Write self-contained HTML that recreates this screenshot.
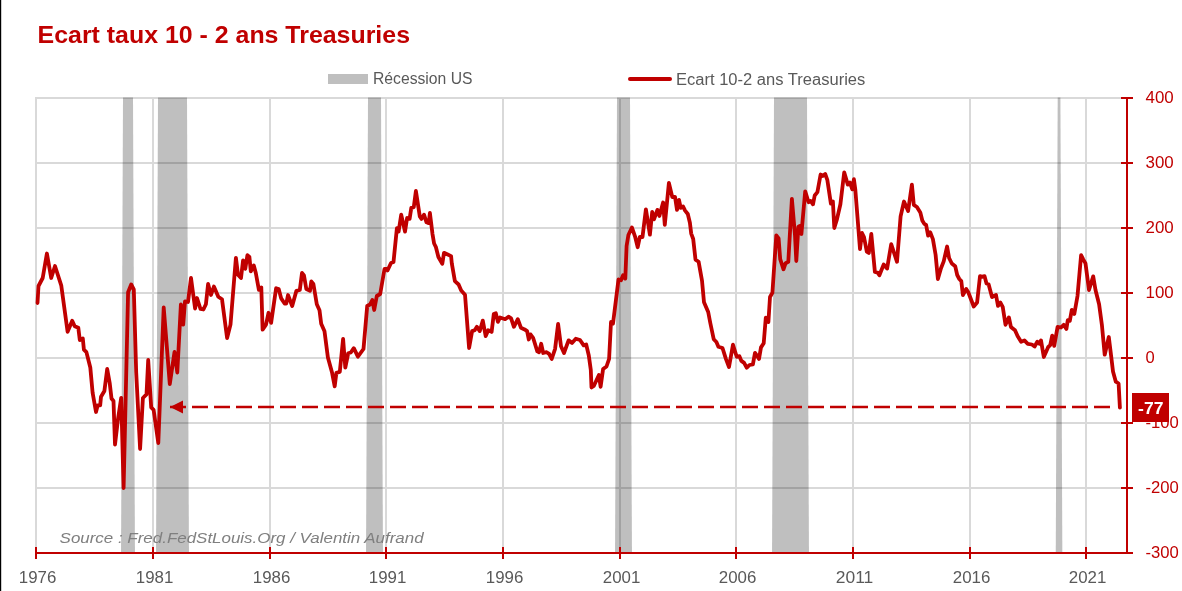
<!DOCTYPE html>
<html><head><meta charset="utf-8"><title>Ecart taux 10 - 2 ans Treasuries</title>
<style>
html,body{margin:0;padding:0;background:#fff;}
body{width:1182px;height:591px;overflow:hidden;font-family:"Liberation Sans",sans-serif;}
svg{display:block;}
text{font-family:"Liberation Sans",sans-serif;}
</style></head><body>
<svg width="1182" height="591" viewBox="0 0 1182 591">
<rect x="0" y="0" width="1182" height="591" fill="#fff"/>
<rect x="0" y="0" width="1.2" height="591" fill="#000"/>
<rect x="35" y="97" width="1091" height="2" fill="#d9d9d9"/>
<rect x="35" y="162" width="1091" height="2" fill="#d9d9d9"/>
<rect x="35" y="227" width="1091" height="2" fill="#d9d9d9"/>
<rect x="35" y="292" width="1091" height="2" fill="#d9d9d9"/>
<rect x="35" y="357" width="1091" height="2" fill="#d9d9d9"/>
<rect x="35" y="422" width="1091" height="2" fill="#d9d9d9"/>
<rect x="35" y="487" width="1091" height="2" fill="#d9d9d9"/>
<rect x="35.00" y="99" width="2" height="448" fill="#d9d9d9"/>
<rect x="152.00" y="99" width="2" height="448" fill="#d9d9d9"/>
<rect x="269.00" y="99" width="2" height="448" fill="#d9d9d9"/>
<rect x="385.00" y="99" width="2" height="448" fill="#d9d9d9"/>
<rect x="502.00" y="99" width="2" height="448" fill="#d9d9d9"/>
<rect x="619.00" y="99" width="2" height="448" fill="#d9d9d9"/>
<rect x="735.00" y="99" width="2" height="448" fill="#d9d9d9"/>
<rect x="852.00" y="99" width="2" height="448" fill="#d9d9d9"/>
<rect x="969.00" y="99" width="2" height="448" fill="#d9d9d9"/>
<rect x="1085.00" y="99" width="2" height="448" fill="#d9d9d9"/>
<g style="mix-blend-mode:multiply">
<polygon points="123,97.5 133,97.5 134.94,553 121.06,553" fill="#bfbfbf"/>
<polygon points="158,97.5 187,97.5 188.94,553 156.06,553" fill="#bfbfbf"/>
<polygon points="368,97.5 381,97.5 382.94,553 366.06,553" fill="#bfbfbf"/>
<polygon points="617,97.5 630,97.5 631.94,553 615.06,553" fill="#bfbfbf"/>
<polygon points="774,97.5 807,97.5 808.94,553 772.06,553" fill="#bfbfbf"/>
<polygon points="1057.7,97.5 1060.4,97.5 1062.34,553 1055.76,553" fill="#bfbfbf"/>
</g>
<text x="59.6" y="542.8" font-family="Liberation Sans" font-style="italic" font-size="15.5" fill="#7f7f7f" textLength="364" lengthAdjust="spacingAndGlyphs">Source : Fred.FedStLouis.Org / Valentin Aufrand</text>
<rect x="35" y="552" width="1098" height="2" fill="#C00000"/>
<rect x="1126" y="97" width="2" height="456" fill="#C00000"/>
<rect x="35.00" y="547" width="2" height="12" fill="#C00000"/>
<rect x="152.00" y="547" width="2" height="12" fill="#C00000"/>
<rect x="269.00" y="547" width="2" height="12" fill="#C00000"/>
<rect x="385.00" y="547" width="2" height="12" fill="#C00000"/>
<rect x="502.00" y="547" width="2" height="12" fill="#C00000"/>
<rect x="619.00" y="547" width="2" height="12" fill="#C00000"/>
<rect x="735.00" y="547" width="2" height="12" fill="#C00000"/>
<rect x="852.00" y="547" width="2" height="12" fill="#C00000"/>
<rect x="969.00" y="547" width="2" height="12" fill="#C00000"/>
<rect x="1085.00" y="547" width="2" height="12" fill="#C00000"/>
<rect x="1121" y="97" width="12" height="2" fill="#C00000"/>
<rect x="1121" y="162" width="12" height="2" fill="#C00000"/>
<rect x="1121" y="227" width="12" height="2" fill="#C00000"/>
<rect x="1121" y="292" width="12" height="2" fill="#C00000"/>
<rect x="1121" y="357" width="12" height="2" fill="#C00000"/>
<rect x="1121" y="422" width="12" height="2" fill="#C00000"/>
<rect x="1121" y="487" width="12" height="2" fill="#C00000"/>
<text x="1145.5" y="102.6" font-family="Liberation Sans" font-size="16" fill="#C00000" textLength="28.2" lengthAdjust="spacingAndGlyphs">400</text>
<text x="1145.5" y="167.6" font-family="Liberation Sans" font-size="16" fill="#C00000" textLength="28.2" lengthAdjust="spacingAndGlyphs">300</text>
<text x="1145.5" y="232.6" font-family="Liberation Sans" font-size="16" fill="#C00000" textLength="28.2" lengthAdjust="spacingAndGlyphs">200</text>
<text x="1145.5" y="297.6" font-family="Liberation Sans" font-size="16" fill="#C00000" textLength="28.2" lengthAdjust="spacingAndGlyphs">100</text>
<text x="1145.5" y="362.6" font-family="Liberation Sans" font-size="16" fill="#C00000" textLength="9.2" lengthAdjust="spacingAndGlyphs">0</text>
<text x="1145.5" y="427.6" font-family="Liberation Sans" font-size="16" fill="#C00000" textLength="33.3" lengthAdjust="spacingAndGlyphs">-100</text>
<text x="1145.5" y="492.6" font-family="Liberation Sans" font-size="16" fill="#C00000" textLength="33.3" lengthAdjust="spacingAndGlyphs">-200</text>
<text x="1145.5" y="557.6" font-family="Liberation Sans" font-size="16" fill="#C00000" textLength="33.3" lengthAdjust="spacingAndGlyphs">-300</text>
<text x="37.5" y="582.8" text-anchor="middle" font-family="Liberation Sans" font-size="16" fill="#595959" textLength="37.5" lengthAdjust="spacingAndGlyphs">1976</text>
<text x="154.5" y="582.8" text-anchor="middle" font-family="Liberation Sans" font-size="16" fill="#595959" textLength="37.5" lengthAdjust="spacingAndGlyphs">1981</text>
<text x="271.5" y="582.8" text-anchor="middle" font-family="Liberation Sans" font-size="16" fill="#595959" textLength="37.5" lengthAdjust="spacingAndGlyphs">1986</text>
<text x="387.5" y="582.8" text-anchor="middle" font-family="Liberation Sans" font-size="16" fill="#595959" textLength="37.5" lengthAdjust="spacingAndGlyphs">1991</text>
<text x="504.5" y="582.8" text-anchor="middle" font-family="Liberation Sans" font-size="16" fill="#595959" textLength="37.5" lengthAdjust="spacingAndGlyphs">1996</text>
<text x="621.5" y="582.8" text-anchor="middle" font-family="Liberation Sans" font-size="16" fill="#595959" textLength="37.5" lengthAdjust="spacingAndGlyphs">2001</text>
<text x="737.5" y="582.8" text-anchor="middle" font-family="Liberation Sans" font-size="16" fill="#595959" textLength="37.5" lengthAdjust="spacingAndGlyphs">2006</text>
<text x="854.5" y="582.8" text-anchor="middle" font-family="Liberation Sans" font-size="16" fill="#595959" textLength="37.5" lengthAdjust="spacingAndGlyphs">2011</text>
<text x="971.5" y="582.8" text-anchor="middle" font-family="Liberation Sans" font-size="16" fill="#595959" textLength="37.5" lengthAdjust="spacingAndGlyphs">2016</text>
<text x="1087.5" y="582.8" text-anchor="middle" font-family="Liberation Sans" font-size="16" fill="#595959" textLength="37.5" lengthAdjust="spacingAndGlyphs">2021</text>
<rect x="328" y="74" width="40" height="10" fill="#bfbfbf"/>
<text x="373" y="84.4" font-family="Liberation Sans" font-size="16" fill="#595959" textLength="99.5" lengthAdjust="spacingAndGlyphs">Récession US</text>
<line x1="630" y1="79" x2="670" y2="79" stroke="#C00000" stroke-width="4" stroke-linecap="round"/>
<text x="676" y="84.6" font-family="Liberation Sans" font-size="16" fill="#595959" textLength="189.3" lengthAdjust="spacingAndGlyphs">Ecart 10-2 ans Treasuries</text>
<text x="37.6" y="43.4" font-family="Liberation Sans" font-weight="bold" font-size="23.7" fill="#C00000" textLength="372.4" lengthAdjust="spacingAndGlyphs">Ecart taux 10 - 2 ans Treasuries</text>
<line x1="170" y1="407" x2="1112" y2="407" stroke="#C00000" stroke-width="2.5" stroke-dasharray="16 6"/>
<polygon points="170,407 183,400.5 183,413.5" fill="#C00000"/>
<path d="M37.5 303.0 L38.5 286.0 L42.7 278.0 L46.9 253.5 L51.2 278.0 L55.0 266.0 L61.3 285.7 L67.6 331.8 L72.2 320.7 L74.7 326.2 L78.3 327.8 L79.8 340.0 L82.8 338.4 L83.9 349.6 L86.4 352.1 L90.3 367.5 L92.6 392.6 L96.0 412.0 L97.7 405.3 L100.2 405.3 L101.0 396.8 L104.4 391.0 L107.2 369.0 L109.7 383.0 L111.5 398.5 L113.5 401.0 L115.0 444.5 L118.0 419.0 L121.2 397.8 L123.6 488.0 L128.1 292.3 L131.2 284.5 L133.8 289.5 L136.2 372.5 L140.1 449.0 L142.9 398.0 L146.5 394.4 L148.2 360.0 L151.2 407.4 L153.6 409.8 L158.3 443.0 L163.7 307.5 L169.8 384.0 L174.5 352.0 L177.3 372.5 L180.9 304.4 L183.2 324.7 L185.0 301.4 L188.0 302.0 L191.0 278.0 L195.1 308.5 L197.0 298.0 L200.5 309.0 L203.4 309.5 L205.9 304.3 L208.1 284.0 L211.0 295.0 L213.9 286.5 L218.3 296.7 L222.0 299.2 L227.1 338.0 L230.5 324.6 L235.9 257.8 L238.0 274.7 L241.0 278.0 L243.1 260.3 L245.3 268.8 L247.4 255.2 L249.4 256.9 L250.8 271.3 L253.8 265.4 L255.8 273.0 L258.9 289.9 L261.3 287.4 L262.6 329.7 L266.0 324.6 L268.5 312.8 L271.1 322.9 L276.1 288.2 L278.7 289.0 L281.2 298.4 L284.6 303.5 L286.3 303.5 L288.0 295.0 L292.2 306.0 L296.4 290.8 L299.8 290.0 L302.0 273.0 L304.0 275.5 L306.3 289.0 L310.0 290.8 L311.3 281.5 L313.4 284.0 L316.8 304.3 L319.5 310.2 L321.2 323.7 L324.5 331.3 L327.9 357.5 L332.1 372.8 L334.7 386.3 L336.4 372.8 L339.8 371.9 L343.1 338.9 L345.3 367.7 L348.2 353.3 L350.8 352.5 L353.8 348.2 L357.9 356.7 L363.5 349.0 L367.2 306.0 L370.0 304.5 L372.3 300.0 L374.2 310.0 L376.8 296.0 L380.2 294.0 L384.5 269.0 L386.5 269.0 L387.5 270.5 L391.0 263.0 L393.5 262.0 L396.9 228.2 L398.6 231.6 L401.2 214.7 L405.0 231.6 L407.1 218.0 L409.6 218.9 L411.3 207.9 L413.8 207.1 L415.9 191.0 L419.8 216.4 L421.5 218.9 L424.0 214.7 L426.5 222.3 L428.7 223.1 L429.9 213.0 L432.5 234.1 L434.1 243.5 L435.8 246.8 L438.4 257.0 L442.3 263.8 L444.0 252.8 L447.7 254.5 L451.1 256.1 L451.8 263.4 L454.9 281.2 L458.6 284.5 L461.2 290.5 L465.0 294.7 L469.1 348.0 L472.1 331.1 L474.7 330.2 L476.9 326.8 L479.8 331.1 L482.8 320.6 L485.7 336.1 L488.2 330.2 L491.6 331.9 L493.8 314.1 L495.8 313.3 L497.9 321.8 L500.1 317.5 L505.1 319.2 L508.5 316.7 L511.1 318.4 L513.9 326.8 L517.8 319.2 L520.9 327.7 L524.6 329.4 L527.1 331.1 L528.8 339.5 L530.5 334.4 L533.1 337.8 L537.3 351.4 L539.0 352.2 L541.2 343.8 L543.2 353.0 L546.6 352.2 L549.1 353.9 L551.7 359.0 L555.1 348.8 L558.1 324.0 L561.0 346.3 L564.0 353.0 L568.6 340.4 L572.0 342.9 L575.8 338.7 L580.0 340.0 L583.7 345.4 L586.2 344.5 L588.8 355.5 L590.8 370.0 L591.5 387.5 L593.8 386.0 L598.9 375.0 L600.6 386.8 L603.1 369.0 L606.5 366.5 L609.1 358.9 L611.0 322.0 L613.0 323.5 L618.5 279.5 L621.0 280.3 L623.1 275.2 L625.3 278.6 L626.6 246.0 L628.4 235.0 L631.9 227.5 L635.0 236.3 L637.7 247.2 L639.8 237.0 L642.5 237.0 L645.9 209.3 L649.9 234.7 L652.2 212.0 L654.0 219.4 L657.4 209.9 L659.4 216.0 L663.1 202.5 L664.8 224.8 L668.9 182.9 L672.3 197.1 L675.0 196.8 L677.0 209.9 L679.0 199.8 L680.7 207.9 L683.1 206.5 L685.1 210.6 L687.8 214.0 L689.9 222.8 L691.2 233.6 L693.2 239.0 L695.5 259.6 L698.6 261.7 L702.0 280.6 L704.0 302.3 L708.2 312.0 L710.3 323.0 L713.7 339.2 L716.4 342.0 L718.4 346.7 L722.5 348.0 L725.9 358.9 L729.0 367.0 L733.0 344.7 L736.7 356.8 L739.4 356.2 L741.4 360.9 L744.1 362.9 L746.8 367.7 L749.5 365.0 L752.9 364.3 L755.0 352.8 L759.0 358.9 L761.0 347.4 L763.7 343.3 L765.8 317.6 L768.4 322.0 L770.0 297.0 L772.4 292.8 L776.3 235.4 L778.6 238.5 L780.2 259.1 L783.5 269.3 L785.6 263.2 L788.3 261.8 L791.9 198.8 L795.0 235.4 L796.3 261.0 L798.4 226.6 L799.8 225.9 L801.4 234.0 L805.2 191.4 L808.6 202.2 L810.6 200.9 L813.0 204.3 L814.7 195.5 L817.4 192.1 L820.6 174.5 L822.7 176.0 L825.2 174.0 L827.3 179.8 L830.9 203.6 L832.9 201.5 L834.3 228.0 L837.0 219.1 L840.4 204.3 L844.2 172.4 L847.8 184.6 L849.9 182.6 L852.3 189.4 L853.9 179.2 L855.3 189.4 L860.0 249.0 L862.0 233.0 L864.0 237.0 L866.8 251.7 L868.8 253.0 L871.3 234.0 L874.9 272.0 L877.6 272.6 L879.4 275.3 L883.7 264.5 L887.1 268.6 L891.2 244.2 L897.0 261.8 L900.6 216.4 L904.0 201.5 L908.1 211.0 L911.9 184.6 L913.8 204.9 L916.9 207.0 L920.3 212.4 L922.3 220.5 L924.3 223.9 L926.1 224.9 L928.1 235.7 L930.2 232.3 L932.9 239.1 L935.6 254.7 L937.9 279.0 L941.0 268.2 L943.7 261.4 L947.1 246.5 L949.1 258.0 L951.8 263.5 L955.2 266.2 L957.2 275.0 L959.3 279.0 L961.3 281.1 L962.9 295.0 L966.2 289.0 L968.3 292.3 L973.7 306.5 L977.1 302.5 L980.0 276.1 L982.5 276.8 L984.5 276.1 L986.5 283.5 L988.6 284.2 L992.0 297.1 L996.0 295.0 L998.0 305.9 L1000.4 302.5 L1002.8 307.2 L1005.5 324.8 L1008.9 317.4 L1010.9 326.9 L1015.0 330.2 L1017.7 336.3 L1021.1 341.7 L1024.4 340.4 L1027.8 343.8 L1031.9 344.5 L1034.6 346.5 L1037.3 341.7 L1039.3 343.8 L1041.0 340.4 L1043.8 357.0 L1048.1 347.2 L1050.2 345.1 L1052.2 335.7 L1054.2 345.8 L1057.6 326.9 L1061.0 327.5 L1063.7 324.8 L1066.4 328.9 L1067.8 320.1 L1069.8 320.8 L1071.8 309.9 L1074.3 314.0 L1077.5 296.0 L1081.1 255.1 L1083.1 259.2 L1085.5 263.4 L1089.0 290.0 L1093.2 276.4 L1095.5 290.0 L1099.1 304.2 L1101.9 324.9 L1104.7 354.7 L1108.8 337.0 L1111.2 356.5 L1113.0 371.4 L1115.8 381.7 L1118.6 383.5 L1119.9 407.7" fill="none" stroke="#C00000" stroke-width="3.8" stroke-linejoin="round" stroke-linecap="round"/>
<rect x="1132" y="393" width="37" height="29" fill="#C00000"/>
<text x="1150.8" y="413.8" text-anchor="middle" font-family="Liberation Sans" font-weight="bold" font-size="16.5" fill="#fff" textLength="25.4" lengthAdjust="spacingAndGlyphs">-77</text>
</svg>
</body></html>
